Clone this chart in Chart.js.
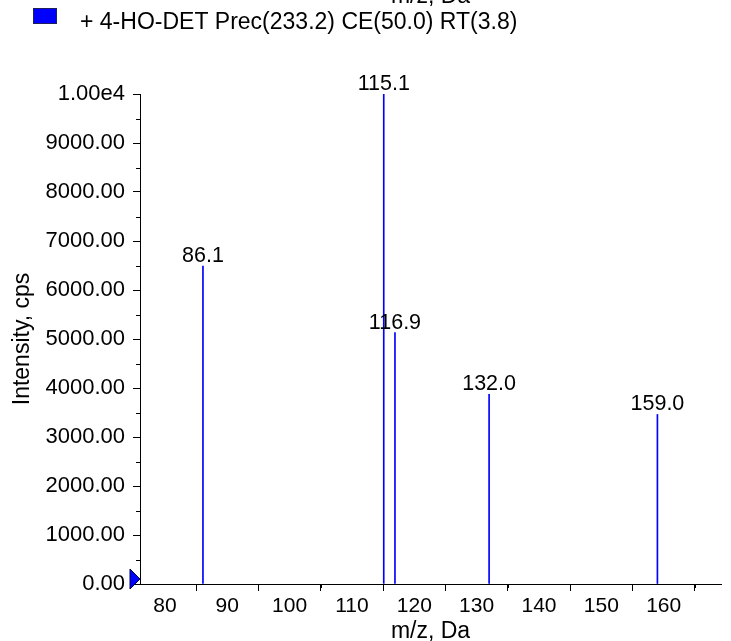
<!DOCTYPE html>
<html>
<head>
<meta charset="utf-8">
<script src="https://cdn.jsdelivr.net/npm/chart.js@4/dist/chart.umd.min.js"></script>
<style>
  html, body { margin: 0; padding: 0; background: #fff; }
  #wrap { width: 731px; height: 641px; }
</style>
</head>
<body>
<div id="wrap"><canvas id="chart" width="731" height="641"></canvas></div>
<script>
//////////////////////////////////////////////////
// Data

const mzValues = [86.1, 115.1, 116.9, 132.0, 159.0]
const intensities = [6490, 10000, 5130, 3870, 3460]
const peakLabels = ['86.1', '115.1', '116.9', '132.0', '159.0']
const legendText = '+ 4-HO-DET Prec(233.2) CE(50.0) RT(3.8)'
const xTitle = 'm/z, Da'
const yTitle = 'Intensity, cps'

const FONT = 'Liberation Sans, Arial, sans-serif'
const BLUE = '#0000ff'

//////////////////////////////////////////////////
// Extra drawing: minor ticks, peak labels, legend, origin marker

const decor = {
  id: 'decor',
  afterDraw (chart) {
    const { ctx, chartArea } = chart
    const x = chart.scales.x
    const y = chart.scales.y
    ctx.save()

    // minor ticks
    ctx.strokeStyle = '#000'
    ctx.lineWidth = 1
    ctx.beginPath()
    for (let v = 500; v < 10000; v += 1000) {
      const py = Math.round(y.getPixelForValue(v)) + 0.5
      ctx.moveTo(chartArea.left - 4, py)
      ctx.lineTo(chartArea.left, py)
    }
    for (let v = 85; v < x.max; v += 10) {
      const px = Math.round(x.getPixelForValue(v)) + 0.5
      ctx.moveTo(px, chartArea.bottom)
      ctx.lineTo(px, chartArea.bottom + 4)
    }
    ctx.stroke()

    // peak labels
    ctx.fillStyle = '#000'
    ctx.font = `21.5px ${FONT}`
    ctx.textAlign = 'center'
    ctx.textBaseline = 'alphabetic'
    chart.getDatasetMeta(0).data.forEach((bar, i) => {
      ctx.fillText(peakLabels[i], bar.x, bar.y - 4)
    })

    // origin marker
    const oy = y.getPixelForValue(0) - 5
    ctx.beginPath()
    ctx.moveTo(chartArea.left - 10, oy - 10)
    ctx.lineTo(chartArea.left, oy)
    ctx.lineTo(chartArea.left - 10, oy + 10)
    ctx.closePath()
    ctx.fillStyle = BLUE
    ctx.fill()
    ctx.strokeStyle = '#000040'
    ctx.stroke()

    // legend
    ctx.fillStyle = BLUE
    ctx.fillRect(33, 8, 24, 16)
    ctx.strokeStyle = '#202060'
    ctx.strokeRect(33.5, 8.5, 23, 15)
    ctx.fillStyle = '#000'
    ctx.textAlign = 'left'
    ctx.font = `23px ${FONT}`
    ctx.fillText(legendText, 80, 29)

    // clipped title of the plot above
    ctx.textAlign = 'center'
    ctx.fillText(xTitle, (chartArea.left + chartArea.right) / 2, 3)

    ctx.restore()
  }
}

//////////////////////////////////////////////////
// Chart

new Chart(document.getElementById('chart'), {
  type: 'bar',
  data: {
    datasets: [{
      data: mzValues.map((mz, i) => ({ x: mz, y: intensities[i] })),
      backgroundColor: BLUE,
      borderWidth: 0,
      barThickness: 1
    }]
  },
  options: {
    responsive: false,
    animation: false,
    layout: { padding: { top: 94, right: 10, left: 0, bottom: 0 } },
    plugins: {
      legend: { display: false },
      tooltip: { enabled: false }
    },
    scales: {
      x: {
        type: 'linear',
        min: 76,
        max: 169.2,
        offset: false,
        ticks: {
          stepSize: 10,
          includeBounds: false,
          autoSkip: false,
          maxRotation: 0,
          padding: 3,
          color: '#000',
          font: { family: FONT, size: 21 }
        },
        grid: { display: true, drawOnChartArea: false, drawTicks: true, tickLength: 7, color: '#000' },
        border: { display: true, color: '#000' },
        title: {
          display: true,
          text: xTitle,
          color: '#000',
          padding: { top: 0, bottom: 0 },
          font: { family: FONT, size: 23, lineHeight: 0.85 }
        },
        afterFit: (s) => { s.height = 57 }
      },
      y: {
        min: 0,
        max: 10000,
        ticks: {
          stepSize: 1000,
          padding: 8,
          color: '#000',
          font: { family: FONT, size: 22 },
          callback: (v) => v === 10000 ? '1.00e4' : v.toFixed(2)
        },
        grid: { display: true, drawOnChartArea: false, drawTicks: true, tickLength: 7, color: '#000' },
        border: { display: true, color: '#000' },
        title: {
          display: true,
          text: yTitle,
          color: '#000',
          padding: { top: 13, bottom: 0 },
          font: { family: FONT, size: 23, lineHeight: 0.85 }
        },
        afterFit: (s) => { s.width = 140 }
      }
    }
  },
  plugins: [decor]
})
</script>
</body>
</html>
